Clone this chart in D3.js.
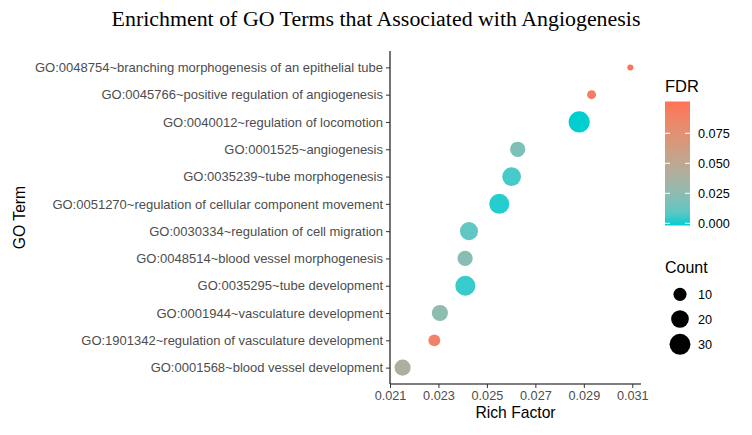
<!DOCTYPE html>
<html><head><meta charset="utf-8">
<script src="https://cdn.jsdelivr.net/npm/d3@7"></script>
<style>body{margin:0;background:#fff}</style>
</head><body><svg id="c" width="752" height="435"></svg>
<script>
const terms = [
 "GO:0048754~branching morphogenesis of an epithelial tube",
 "GO:0045766~positive regulation of angiogenesis",
 "GO:0040012~regulation of locomotion",
 "GO:0001525~angiogenesis",
 "GO:0035239~tube morphogenesis",
 "GO:0051270~regulation of cellular component movement",
 "GO:0030334~regulation of cell migration",
 "GO:0048514~blood vessel morphogenesis",
 "GO:0035295~tube development",
 "GO:0001944~vasculature development",
 "GO:1901342~regulation of vasculature development",
 "GO:0001568~blood vessel development"
];
const richFactor = [0.03092, 0.02932, 0.02881, 0.02627, 0.02602, 0.02551, 0.02426, 0.02410, 0.02411, 0.02306, 0.02283, 0.02152];
const counts = [4, 5, 31, 14, 23, 27, 21, 14, 27, 16, 8, 16];
const fdr = [0.101, 0.092, 0.0002, 0.020, 0.006, 0.002, 0.012, 0.024, 0.004, 0.026, 0.088, 0.042];
const xTicks = [0.021, 0.023, 0.025, 0.027, 0.029, 0.031];
const fdrTicks = [0, 0.025, 0.05, 0.075];
const countTicks = [10, 20, 30];

const svg = d3.select("#c");
const L = 390, R = 641, T = 51, B = 384;
const x = d3.scaleLinear().domain([0.021, 0.03136]).range([L, R]);
const y = d3.scalePoint().domain(terms).range([T, B]).padding(0.6);
const cmin = d3.min(counts), cmax = d3.max(counts);
const rs = c => 3 + 7.6 * Math.sqrt(Math.max(0, (c - cmin) / (cmax - cmin)));
const fmin = d3.min(fdr), fmax = d3.max(fdr);
const col = d3.scaleLinear().domain([fmin, fmax]).range(["#00CED1", "#FF7256"]).interpolate(d3.interpolateLab);
const lf = "Liberation Sans, Arial, sans-serif";

// title
svg.append("text").attr("x", 376).attr("y", 26).attr("text-anchor", "middle")
  .attr("font-family", "Liberation Serif, Times New Roman, serif").attr("font-size", 21.9).attr("fill", "#000")
  .text("Enrichment of GO Terms that Associated with Angiogenesis");

// axes
const gx = svg.append("g").attr("transform", `translate(0,${B})`)
  .call(d3.axisBottom(x).tickValues(xTicks).tickFormat(d3.format(".3f")).tickSize(4).tickPadding(3).tickSizeOuter(0));
const gy = svg.append("g").attr("transform", `translate(${L},0)`)
  .call(d3.axisLeft(y).tickSize(4).tickPadding(3).tickSizeOuter(0));
[gx, gy].forEach(g => {
  g.select(".domain").attr("stroke", "#000").attr("stroke-width", 1.1);
  g.selectAll(".tick line").attr("stroke", "#333");
  g.selectAll(".tick text").attr("fill", "#4D4D4D").attr("font-family", lf);
});
gx.selectAll(".tick text").attr("font-size", 12.7);
gy.selectAll(".tick text").attr("font-size", 13);
gy.select(".domain").attr("d", `M0,${T}V${B}`);
gx.select(".domain").attr("d", `M${L},0H${R}`);

svg.append("text").attr("x", (L + R) / 2).attr("y", 418).attr("text-anchor", "middle")
  .attr("font-family", lf).attr("font-size", 15.7).text("Rich Factor");
svg.append("text").attr("transform", `translate(25,${(T + B) / 2}) rotate(-90)`).attr("text-anchor", "middle")
  .attr("font-family", lf).attr("font-size", 15.7).text("GO Term");

// points
svg.append("g").selectAll("circle").data(terms).join("circle")
  .attr("cx", (d, i) => x(richFactor[i])).attr("cy", d => y(d))
  .attr("r", (d, i) => rs(counts[i])).attr("fill", (d, i) => col(fdr[i]));

// FDR legend
svg.append("text").attr("x", 665).attr("y", 92).attr("font-family", lf).attr("font-size", 16.5).text("FDR");
const barTop = 101.5, barBot = 225.5, bx = 665, bw = 25;
const defs = svg.append("defs");
const grad = defs.append("linearGradient").attr("id", "g").attr("x1", 0).attr("x2", 0).attr("y1", 1).attr("y2", 0);
d3.range(0, 1.0001, 0.1).forEach(t => grad.append("stop").attr("offset", t).attr("stop-color", col(fmin + t * (fmax - fmin))));
svg.append("rect").attr("x", bx).attr("y", barTop).attr("width", bw).attr("height", barBot - barTop).attr("fill", "url(#g)");
const fyt = d3.scaleLinear().domain([0, 0.025]).range([223.3, 193.3]);
fdrTicks.forEach(t => {
  const yy = fyt(t);
  svg.append("line").attr("x1", bx).attr("x2", bx + 5).attr("y1", yy).attr("y2", yy).attr("stroke", "#fff").attr("stroke-width", 1);
  svg.append("line").attr("x1", bx + bw - 5).attr("x2", bx + bw).attr("y1", yy).attr("y2", yy).attr("stroke", "#fff").attr("stroke-width", 1);
  svg.append("text").attr("x", 698).attr("y", yy + 4.5).attr("font-family", lf).attr("font-size", 12.7).attr("fill", "#000").text(d3.format(".3f")(t));
});

// Count legend
svg.append("text").attr("x", 665).attr("y", 273).attr("font-family", lf).attr("font-size", 16).text("Count");
const cy = [294.3, 319, 344.3];
countTicks.forEach((c, i) => {
  svg.append("circle").attr("cx", 680).attr("cy", cy[i]).attr("r", rs(c)).attr("fill", "#000");
  svg.append("text").attr("x", 698).attr("y", cy[i] + 4.5).attr("font-family", lf).attr("font-size", 12.7).text(c);
});
</script></body></html>
